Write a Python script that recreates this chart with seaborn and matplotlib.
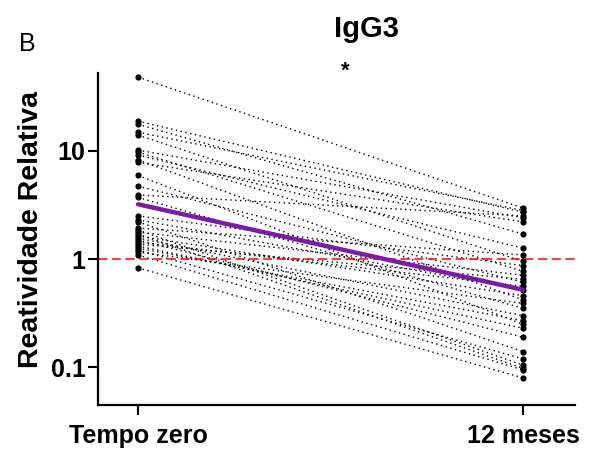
import matplotlib
matplotlib.use('Agg')
import matplotlib.pyplot as plt
import numpy as np
import pandas as pd
import seaborn as sns

sns.set_style("ticks")
plt.rcParams['font.family'] = ['Liberation Sans', 'DejaVu Sans']
plt.rcParams.update({
    'text.color': 'black',
    'axes.edgecolor': 'black',
    'xtick.color': 'black',
    'ytick.color': 'black',
})

# Relative reactivity per subject
time_labels = ['Tempo zero', '12 meses']
baseline = [47.6, 18.7, 17.5, 14.8, 13.9, 10.1, 9.7, 9.1, 8.2, 7.8, 5.9, 4.7,
            3.9, 3.7, 2.5, 2.3, 2.2, 1.93, 1.85, 1.77, 1.70, 1.63, 1.56, 1.50,
            1.43, 1.37, 1.32, 1.26, 1.21, 1.16, 1.09, 0.83]
month12 = [2.95, 2.7, 1.7, 2.8, 0.95, 2.4, 0.77, 1.26, 0.42, 2.2, 0.25, 0.61,
           2.5, 0.35, 0.87, 0.52, 0.14, 1.09, 0.105, 0.71, 0.098, 0.46, 0.30, 0.19,
           0.56, 0.65, 0.23, 0.27, 0.12, 0.39, 0.095, 0.080]
mean_values = [3.2, 0.52]

n = len(baseline)
df = pd.DataFrame({
    'subject': list(range(n)) * 2,
    'time': [0] * n + [1] * n,
    'value': baseline + month12,
})
mean_df = pd.DataFrame({'time': [0, 1], 'value': mean_values})

fig = plt.figure(figsize=(5.96, 4.59), dpi=100)
ax = fig.add_axes([0.1644, 0.1176, 0.8004, 0.7234])

sns.lineplot(data=df, x='time', y='value', units='subject', estimator=None,
             color='black', linestyle=(0, (1, 2.5)), linewidth=1.0, ax=ax,
             legend=False)
sns.scatterplot(data=df, x='time', y='value', color='black', s=20,
                edgecolor='black', linewidth=0, ax=ax, legend=False, zorder=3)
ax.axhline(1, color='red', linestyle=(0, (6, 3)), linewidth=1.1, zorder=2)
sns.lineplot(data=mean_df, x='time', y='value', color='#7a1aa6',
             linewidth=3.2, ax=ax, legend=False, zorder=4)

ax.set_yscale('log')
ax.set_ylim(0.045, 52)
ax.set_xlim(-0.104, 1.135)
ax.set_yticks([0.1, 1, 10])
ax.set_yticklabels(['0.1', '1', '10'])
ax.yaxis.set_minor_locator(matplotlib.ticker.NullLocator())
ax.set_xticks([0, 1])
ax.set_xticklabels(time_labels)
ax.set_xlabel('')
ax.set_ylabel('')

for lab in ax.get_xticklabels() + ax.get_yticklabels():
    lab.set_fontweight('bold')
ax.tick_params(axis='x', labelsize=18, length=7, width=1.5, pad=7)
ax.tick_params(axis='y', labelsize=18, length=7, width=1.5, pad=2)
for side in ['top', 'right']:
    ax.spines[side].set_visible(False)
for side in ['left', 'bottom']:
    ax.spines[side].set_linewidth(1.6)

fig.text(0.052, 0.499, 'Reatividade Relativa', rotation=90, ha='center',
         va='center', fontsize=20.5, fontweight='bold')
fig.text(0.614, 0.937, 'IgG3', ha='center', va='center', fontsize=21,
         fontweight='bold')
fig.text(0.579, 0.845, '*', ha='center', va='center', fontsize=16,
         fontweight='bold')
fig.text(0.046, 0.904, 'B', ha='center', va='center', fontsize=18)

plt.savefig('out.png', dpi=100)
plt.close()
